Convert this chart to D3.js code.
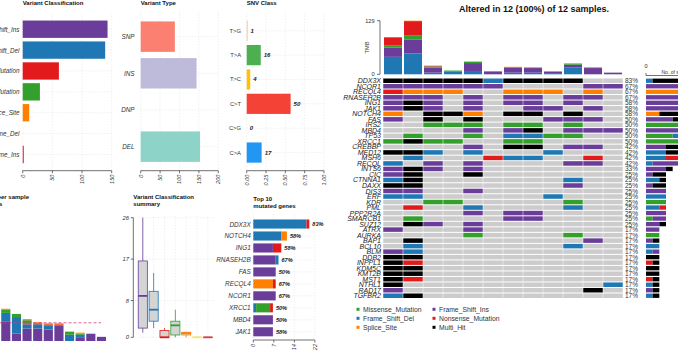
<!DOCTYPE html>
<html><head><meta charset="utf-8">
<script src="https://cdn.jsdelivr.net/npm/d3@7"></script>
<style>
body{margin:0;background:#fff}
svg{display:block}
text{font-family:"Liberation Sans",Arial,Helvetica,sans-serif}
</style>
</head><body>
<svg id="c" width="678" height="355"></svg>
<script>
// ---------------- DATA ----------------
const vcClasses = ["Frame_Shift_Ins","Frame_Shift_Del","Nonsense_Mutation","Missense_Mutation","Splice_Site","In_Frame_Del","In_Frame_Ins"];
const vcCounts  = [143,139,61,29,11,0,2];
const vcTicks   = [0,50,100,150];

const vtTypes  = ["SNP","INS","DNP","DEL"];
const vtCounts = [88,144,0,153];
const vtTicks  = [0,50,100,150,200];

const snvClasses = ["T>G","T>A","T>C","C>T","C>G","C>A"];
const snvCounts  = [1,16,4,50,0,17];
const snvTickLabels = ["0.00","0.25","0.50","0.75","1.00"];

// per-sample variant counts (oncoplot sample order)
const samples = ["S01","S02","S03","S04","S05","S06","S07","S08","S09","S10","S11","S12"];
const smpFSD = [42,50,4,6,8,0,4,4,3,16,0,0];
const smpFSI = [22,34,12,0,19,7,12,11,3,7,15,4];
const smpMIS = [5,9,3,3,3,0,0,0,1,3,0,0];
const smpNON = [20,35,1,0,0,0,1,1,0,0,1,0];
const smpSPL = [0,1,1,0,1,0,1,1,1,0,1,0];
const tmbTicks = [0,129];

// variant classification summary (box stats)
const boxMin = [1,2,0,0,0,0,0];
const boxQ1  = [2,3.5,0,0.5,0.5,0,0];
const boxMed = [9,6,0,2.6,0.9,0,0];
const boxQ3  = [16.6,10,1.5,3.5,1.1,0,0];
const boxMax = [26,14,2,6,1.2,0,0];
const boxTicks = [0,8,17,26];

// top 10 mutated genes
const topGenes = ["DDX3X","NOTCH4","ING1","RNASEH2B","FAS","RECQL4","NCOR1","XRCC1","MBD4","JAK1"];
const topFSI = [0,0,7,8,8,0,8,0,7,7];
const topFSD = [19,10,0,1,0,0,0,1,0,0];
const topMIS = [0,0,0,0,0,0,0,5,0,0];
const topSPL = [0,2,0,0,0,7,0,0,0,0];
const topNON = [1,0,3,0,0,1,0,1,0,0];
const topPct = ["83%","58%","58%","67%","50%","67%","67%","50%","50%","58%"];
const topTickVals = [0,7.33,14.67,22];
const topTickLabels = ["0","7","14","22"];

// oncoplot: P=Frame_Shift_Ins B=Frame_Shift_Del G=Missense R=Nonsense O=Splice K=Multi_Hit
const oncoGenes = ["DDX3X","NCOR1","RECQL4","RNASEH2B","ING1","JAK1","NOTCH4","FAS","IRS2","MBD4","TP53","XRCC1","CREBBP","MED12","MSH6","RECQL","INTS6","CIC","CTNNA1","DAXX","DIS3","ERF","KDR","PML","PPP2R2A","SMARCB1","SUZ12","ATRX","AURKA","BAP1","BCL10","BLM","DDB2","INPPL1","KDM5C","KMT2B","MST1","NTHL1","RAD17","TGFBR2"];
const oncoCells = [
 "KKKKKBKKKK..","PPPPPP....PP","ROOO..OOO.O.","PPP.P.PP.PP.","PKP.P.PP.P..",
 "PKP.P..PP.P.","O.KKO.KK.K..","P.K.K...PPP.","..GGG.GG.G..","....P.PK.PPP",
 ".G..G.BBGG..","GKGG..GG....","....P.KK.PP.","KKB.B...B...",".B...RBB..R.",
 "B.P.P....PP.","PKP.P.......","PK..K.......","BK.......B..","KK.......P..",
 "PP..P.......","BB......B...","..GG.....G..",".R..B....B..","....P.PP....",
 ".G....PP....",".KP.P.......","P...P.......","....G....G..",".K........P.",
 ".B.......B..","PB..........","KK..........","KR..........","KK..........",
 "KK..........","KR..........","K..........B","P.........K.","BK.........."
];
const legendItems = ["Missense_Mutation","Frame_Shift_Del","Splice_Site","Frame_Shift_Ins","Nonsense_Mutation","Multi_Hit"];

// ---------------- STYLE ----------------
const C = {FSI:"#6A3D9A",FSD:"#1F78B4",MIS:"#33A02C",NON:"#E31A1C",SPL:"#FF7F00",IFD:"#F3E55E",IFI:"#D53E4F",MH:"#000000"};
const codeCol = {P:C.FSI,B:C.FSD,G:C.MIS,R:C.NON,O:C.SPL,K:C.MH};
const vcCol = [C.FSI,C.FSD,C.NON,C.MIS,C.SPL,C.IFD,C.IFI];
const vtCol = ["#FB8072","#BEBADA","#FFFFB3","#8DD3C7"];
const snvCol = ["#F7C27D","#4CAF50","#FFC107","#F44336","#555555","#2196F3"];
const legCol = [C.MIS,C.FSD,C.SPL,C.FSI,C.NON,C.MH];
const GRID = "#e6e6e6", AX = "#333";

const svg = d3.select("#c");
svg.append("rect").attr("width",678).attr("height",355).attr("fill","#fff");

function title(x,y,lines,anchor){
  lines.forEach((t,i)=>svg.append("text").attr("x",x).attr("y",y+i*7.2)
    .attr("text-anchor",anchor||"start").attr("font-size",6).attr("font-weight","bold").attr("fill","#111").text(t));
}
function bottomAxis(x, axisY, vals, labels, fs){
  const g = svg.append("g");
  g.append("line").attr("x1",x(vals[0])).attr("x2",x(vals[vals.length-1])).attr("y1",axisY).attr("y2",axisY)
    .attr("stroke",AX).attr("stroke-width",0.7);
  vals.forEach((v,i)=>{
    g.append("line").attr("x1",x(v)).attr("x2",x(v)).attr("y1",axisY).attr("y2",axisY+2.5).attr("stroke",AX).attr("stroke-width",0.7);
    const tx=x(v), ty=axisY+4;
    g.append("text").attr("x",tx).attr("y",ty).attr("transform",`rotate(-90,${tx},${ty})`)
      .attr("text-anchor","end").attr("dominant-baseline","central").attr("font-size",fs||5.5)
      .attr("font-style","italic").attr("fill","#333").text(labels[i]);
  });
}
function hbar(o){
  const y = d3.scaleBand().domain(o.cats).range(o.yRange).padding(0.17);
  const x = d3.scaleLinear().domain(o.xDomain).range(o.xRange);
  // grid
  o.ticks.forEach(t=>svg.append("line").attr("x1",x(t)).attr("x2",x(t)).attr("y1",o.yRange[0]-4).attr("y2",o.axisY)
    .attr("stroke",GRID).attr("stroke-dasharray","1.5,1.5").attr("stroke-width",0.6));
  o.cats.forEach(c=>svg.append("line").attr("x1",o.xRange[0]).attr("x2",o.xRange[1]).attr("y1",y(c)+y.bandwidth()/2).attr("y2",y(c)+y.bandwidth()/2)
    .attr("stroke",GRID).attr("stroke-dasharray","1.5,1.5").attr("stroke-width",0.6));
  svg.append("g").selectAll("rect").data(o.cats).join("rect")
    .attr("x",x(0)).attr("y",c=>y(c)).attr("height",y.bandwidth())
    .attr("width",(c,i)=>Math.max(0,x(o.vals[i])-x(0))).attr("fill",(c,i)=>o.colors[i]);
  svg.append("g").selectAll("text").data(o.cats).join("text")
    .attr("x",o.labelX).attr("y",c=>y(c)+y.bandwidth()/2).attr("text-anchor","end").attr("dominant-baseline","central")
    .attr("font-size",o.fs).attr("font-style",o.italic?"italic":"normal").attr("fill","#333").text(c=>c);
  if(o.valueLabels){
    svg.append("g").selectAll("text").data(o.cats).join("text")
      .attr("x",(c,i)=>x(o.vals[i])+3).attr("y",c=>y(c)+y.bandwidth()/2).attr("dominant-baseline","central")
      .attr("font-size",6).attr("font-weight","bold").attr("font-style","italic").attr("fill","#222").text((c,i)=>o.vals[i]);
  }
  bottomAxis(x,o.axisY,o.ticks,o.tickLabels);
  return {x,y};
}

// ---------------- TOP-LEFT PANELS ----------------
title(22.7,4.8,["Variant Classification"]);
hbar({cats:vcClasses,vals:vcCounts,colors:vcCol,yRange:[17,166.7],xDomain:[0,150],xRange:[22.7,111.7],
  ticks:vcTicks,tickLabels:vcTicks.map(String),labelX:19.5,fs:6.3,italic:true,axisY:170.7});

title(140.7,4.8,["Variant Type"]);
hbar({cats:vtTypes,vals:vtCounts,colors:vtCol,yRange:[15.2,168.1],xDomain:[0,200],xRange:[140.7,218.3],
  ticks:vtTicks,tickLabels:vtTicks.map(String),labelX:134.5,fs:6.3,italic:true,axisY:170.7});

title(246.7,4.8,["SNV Class"]);
const snvTot = d3.sum(snvCounts);
hbar({cats:snvClasses,vals:snvCounts,colors:snvCol,yRange:[16.5,166.8],xDomain:[0,snvTot],xRange:[246.7,324],
  ticks:snvTickLabels.map(s=>+s*snvTot),tickLabels:snvTickLabels,labelX:241,fs:5.8,italic:false,axisY:170.7,valueLabels:true});

// ---------------- VARIANTS PER SAMPLE ----------------
title(29,199,["Variants per sample"],"end");
title(2.3,206.2,["Median: 17.5 variants"],"end");
const smpRows = samples.map((s,i)=>({s,FSI:smpFSI[i],FSD:smpFSD[i],NON:smpNON[i],MIS:smpMIS[i],SPL:smpSPL[i]}));
smpRows.forEach(r=>r.tot=r.FSI+r.FSD+r.NON+r.MIS+r.SPL);
const sorted = smpRows.slice().sort((a,b)=>b.tot-a.tot);
const vpsX = d3.scaleBand().domain(sorted.map(d=>d.s)).range([-21.5,-21.5+12*10.75]).padding(0.14);
const vpsY = d3.scaleLinear().domain([0,129]).range([341,206.8]);
const vpsKeys = ["FSI","FSD","NON","MIS","SPL"];
const vpsStack = d3.stack().keys(vpsKeys)(sorted);
vpsStack.forEach(layer=>{
  svg.append("g").selectAll("rect").data(layer).join("rect")
    .attr("x",d=>vpsX(d.data.s)).attr("width",vpsX.bandwidth())
    .attr("y",d=>vpsY(d[1])).attr("height",d=>vpsY(d[0])-vpsY(d[1])).attr("fill",C[layer.key]);
});
const med = d3.median(sorted,d=>d.tot);
svg.append("line").attr("x1",-21.5).attr("x2",101).attr("y1",vpsY(med)).attr("y2",vpsY(med))
  .attr("stroke","#d63a6e").attr("stroke-width",0.8).attr("stroke-dasharray","3,2");

// ---------------- BOXPLOT ----------------
title(133.3,199,["Variant Classification","summary"]);
const bX = d3.scaleBand().domain(vcClasses).range([136.5,214.2]).padding(0.16);
const bY = d3.scaleLinear().domain([0,26]).range([337.3,217.7]);
vcClasses.forEach(c=>svg.append("line").attr("x1",bX(c)+bX.bandwidth()/2).attr("x2",bX(c)+bX.bandwidth()/2)
  .attr("y1",216).attr("y2",338).attr("stroke",GRID).attr("stroke-dasharray","1.5,1.5").attr("stroke-width",0.6));
boxTicks.forEach(t=>svg.append("line").attr("x1",134).attr("x2",214).attr("y1",bY(t)).attr("y2",bY(t))
  .attr("stroke",GRID).attr("stroke-dasharray","1.5,1.5").attr("stroke-width",0.6));
svg.append("line").attr("x1",133.3).attr("x2",133.3).attr("y1",bY(26)).attr("y2",bY(0)).attr("stroke",AX).attr("stroke-width",0.7);
boxTicks.forEach(t=>{
  svg.append("line").attr("x1",130.8).attr("x2",133.3).attr("y1",bY(t)).attr("y2",bY(t)).attr("stroke",AX).attr("stroke-width",0.7);
  svg.append("text").attr("x",129).attr("y",bY(t)).attr("text-anchor","end").attr("dominant-baseline","central")
    .attr("font-size",5.8).attr("font-style","italic").attr("fill","#333").text(t);
});
vcClasses.forEach((c,i)=>{
  const cx = bX(c)+bX.bandwidth()/2, w=bX.bandwidth(), col=vcCol[i];
  svg.append("line").attr("x1",cx).attr("x2",cx).attr("y1",bY(boxMax[i])).attr("y2",bY(boxQ3[i])).attr("stroke",col).attr("stroke-width",0.8);
  svg.append("line").attr("x1",cx).attr("x2",cx).attr("y1",bY(boxQ1[i])).attr("y2",bY(boxMin[i])).attr("stroke",col).attr("stroke-width",0.8);
  svg.append("rect").attr("x",bX(c)).attr("width",w).attr("y",bY(boxQ3[i])).attr("height",Math.max(0.01,bY(boxQ1[i])-bY(boxQ3[i])))
    .attr("fill","#d4d4d4").attr("stroke",col).attr("stroke-width",0.8);
  svg.append("line").attr("x1",bX(c)).attr("x2",bX(c)+w).attr("y1",bY(boxMed[i])).attr("y2",bY(boxMed[i])).attr("stroke",col).attr("stroke-width",1.8);
});

// ---------------- TOP 10 GENES ----------------
svg.append("text").attr("x",253.3).attr("y",200.5).attr("font-size",6).attr("font-weight","bold").attr("fill","#111").text("Top 10");
svg.append("text").attr("x",253.3).attr("y",207.7).attr("font-size",6).attr("font-weight","bold").attr("fill","#111").text("mutated genes");
const tY = d3.scaleBand().domain(topGenes).range([216.6,339.2]).padding(0.24);
const tX = d3.scaleLinear().domain([0,22]).range([253.3,314.9]);
topTickVals.forEach(t=>svg.append("line").attr("x1",tX(t)).attr("x2",tX(t)).attr("y1",214).attr("y2",340)
  .attr("stroke",GRID).attr("stroke-dasharray","1.5,1.5").attr("stroke-width",0.6));
topGenes.forEach(g=>svg.append("line").attr("x1",253.3).attr("x2",315).attr("y1",tY(g)+tY.bandwidth()/2).attr("y2",tY(g)+tY.bandwidth()/2)
  .attr("stroke",GRID).attr("stroke-dasharray","1.5,1.5").attr("stroke-width",0.6));
const topRows = topGenes.map((g,i)=>({g,FSI:topFSI[i],FSD:topFSD[i],MIS:topMIS[i],SPL:topSPL[i],NON:topNON[i]}));
d3.stack().keys(["FSI","FSD","MIS","SPL","NON"])(topRows).forEach(layer=>{
  svg.append("g").selectAll("rect").data(layer).join("rect")
    .attr("y",d=>tY(d.data.g)).attr("height",tY.bandwidth())
    .attr("x",d=>tX(d[0])).attr("width",d=>tX(d[1])-tX(d[0])).attr("fill",C[layer.key]);
});
topRows.forEach((r,i)=>{
  const tot=r.FSI+r.FSD+r.MIS+r.SPL+r.NON;
  svg.append("text").attr("x",tX(tot)+3).attr("y",tY(r.g)+tY.bandwidth()/2).attr("dominant-baseline","central")
    .attr("font-size",5.6).attr("font-weight","bold").attr("font-style","italic").attr("fill","#222").text(topPct[i]);
  svg.append("text").attr("x",250.7).attr("y",tY(r.g)+tY.bandwidth()/2).attr("text-anchor","end").attr("dominant-baseline","central")
    .attr("font-size",6.4).attr("font-style","italic").attr("fill","#333").text(r.g);
});
bottomAxis(tX,340,topTickVals,topTickLabels);

// ---------------- ONCOPLOT ----------------
svg.append("text").attr("x",534).attr("y",12).attr("text-anchor","middle").attr("font-size",9)
  .attr("font-weight","bold").attr("fill","#111").text("Altered in 12 (100%) of 12 samples.");
const oX = d3.scaleBand().domain(samples).range([383,623]);
const oY = d3.scaleBand().domain(oncoGenes).range([78,298.5]);
// TMB
const tmbY = d3.scaleLinear().domain([0,129]).range([74.3,20.7]);
d3.stack().keys(["FSD","FSI","MIS","NON","SPL"])(smpRows).forEach(layer=>{
  svg.append("g").selectAll("rect").data(layer).join("rect")
    .attr("x",d=>oX(d.data.s)+1).attr("width",oX.bandwidth()-2)
    .attr("y",d=>tmbY(d[1])).attr("height",d=>tmbY(d[0])-tmbY(d[1])).attr("fill",C[layer.key]);
});
svg.append("line").attr("x1",380).attr("x2",380).attr("y1",tmbY(129)).attr("y2",tmbY(0)).attr("stroke",AX).attr("stroke-width",0.7);
tmbTicks.forEach(t=>{
  svg.append("line").attr("x1",377).attr("x2",380).attr("y1",tmbY(t)).attr("y2",tmbY(t)).attr("stroke",AX).attr("stroke-width",0.7);
  svg.append("text").attr("x",374.5).attr("y",tmbY(t)).attr("text-anchor","end").attr("dominant-baseline","central")
    .attr("font-size",5.6).attr("fill","#333").text(t);
});
svg.append("text").attr("transform","translate(366.5,47.5) rotate(-90)").attr("text-anchor","middle").attr("dominant-baseline","central")
  .attr("font-size",5.6).attr("fill","#333").text("TMB");
// grid cells
const cellG = svg.append("g");
oncoGenes.forEach((g,gi)=>{
  samples.forEach((s,si)=>{
    const code = oncoCells[gi][si];
    cellG.append("rect").attr("x",oX(s)+0.25).attr("y",oY(g)+0.5).attr("width",oX.bandwidth()-0.5).attr("height",oY.bandwidth()-1)
      .attr("fill", code==="." ? "#CCCCCC" : codeCol[code]);
  });
});
// gene labels (clipped)
svg.append("clipPath").attr("id","lclip").append("rect").attr("x",343).attr("y",70).attr("width",40).attr("height",240);
svg.append("g").attr("clip-path","url(#lclip)").selectAll("text").data(oncoGenes).join("text")
  .attr("x",381).attr("y",g=>oY(g)+oY.bandwidth()/2).attr("text-anchor","end").attr("dominant-baseline","central")
  .attr("font-size",7).attr("font-style","italic").attr("fill","#222").text(g=>g);
// percentages
svg.append("g").selectAll("text").data(oncoGenes).join("text")
  .attr("x",625).attr("y",g=>oY(g)+oY.bandwidth()/2).attr("dominant-baseline","central")
  .attr("font-size",6.5).attr("fill","#333")
  .text((g,gi)=>Math.round(100*oncoCells[gi].replace(/\./g,"").length/12)+"%");
// right bars
const rX = d3.scaleLinear().domain([0,12]).range([646,726]);
const rKeys = ["G","B","P","O","R","K"];
const rRows = oncoGenes.map((g,gi)=>{const r={g}; rKeys.forEach(k=>r[k]=oncoCells[gi].split(k).length-1); return r;});
d3.stack().keys(rKeys)(rRows).forEach(layer=>{
  svg.append("g").selectAll("rect").data(layer).join("rect")
    .attr("y",d=>oY(d.data.g)+0.6).attr("height",oY.bandwidth()-1.2)
    .attr("x",d=>rX(d[0])).attr("width",d=>rX(d[1])-rX(d[0])).attr("fill",codeCol[layer.key]);
});
svg.append("line").attr("x1",646).attr("x2",678).attr("y1",75.5).attr("y2",75.5).attr("stroke",AX).attr("stroke-width",0.7);
svg.append("line").attr("x1",646).attr("x2",646).attr("y1",73).attr("y2",75.5).attr("stroke",AX).attr("stroke-width",0.7);
svg.append("text").attr("x",646).attr("y",68).attr("text-anchor","middle").attr("font-size",5.6).attr("fill","#333").text("0");
svg.append("text").attr("x",661.5).attr("y",74).attr("font-size",5).attr("fill","#333").text("No. of samples");
// legend
legendItems.forEach((t,i)=>{
  const col = Math.floor(i/3), row = i%3;
  const lx = col===0?356.5:432.5, ly = 309.3+row*9;
  svg.append("rect").attr("x",lx).attr("y",ly-1.5).attr("width",3).attr("height",3).attr("fill",legCol[i]);
  svg.append("text").attr("x",lx+6.5).attr("y",ly).attr("dominant-baseline","central").attr("font-size",6.8).attr("fill","#333").text(t);
});
</script>
</body></html>
